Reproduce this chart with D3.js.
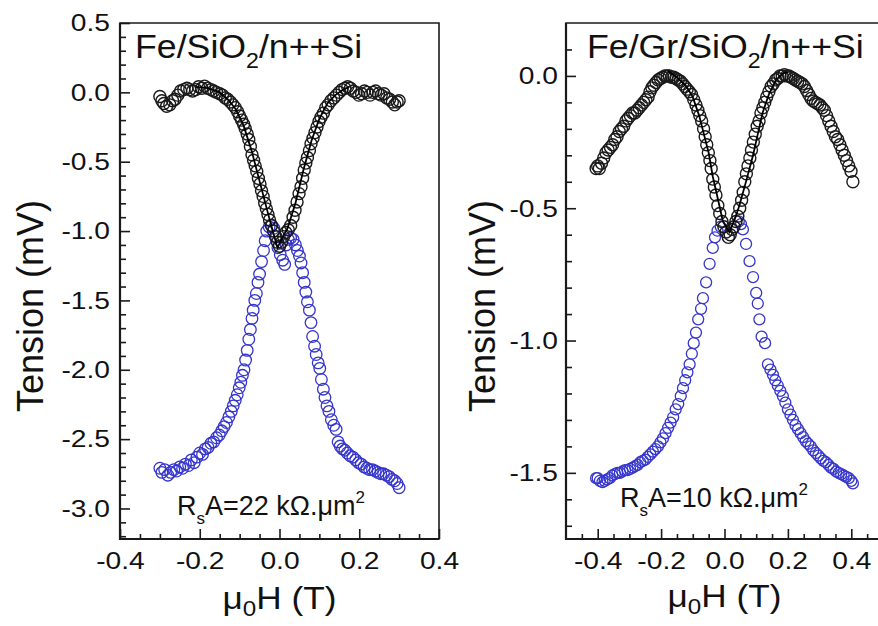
<!DOCTYPE html>
<html>
<head>
<meta charset="utf-8">
<script src="https://cdn.jsdelivr.net/npm/d3@7"></script>
<style>
  html, body { margin: 0; padding: 0; background: #fff; }
  svg { display: block; font-family: "Liberation Sans", Arial, sans-serif; }
</style>
</head>
<body>
<svg id="chart" width="878" height="626"></svg>
<script>
// ---------------- DATA ----------------
// Left panel: Fe/SiO2/n++Si  (field in T, tension in mV)
const leftBlack = [
  [-0.300,-0.03],[-0.295,-0.06],[-0.290,-0.08],[-0.283,-0.10],[-0.275,-0.09],[-0.268,-0.06],[-0.262,-0.05],
  [-0.255,-0.02],[-0.248,0.01],[-0.240,0.02],[-0.232,0.03],[-0.225,0.02],[-0.218,0.01],[-0.210,0.02],
  [-0.203,0.04],[-0.195,0.03],[-0.188,0.045],[-0.180,0.03],[-0.172,0.02],[-0.165,0.01],[-0.158,0.0],
  [-0.150,-0.01],[-0.143,-0.02],[-0.136,-0.04],[-0.130,-0.05],[-0.123,-0.07],[-0.117,-0.09],[-0.111,-0.11],
  [-0.105,-0.14],[-0.100,-0.17],[-0.095,-0.20],[-0.090,-0.23],[-0.086,-0.26],[-0.081,-0.30],[-0.077,-0.34],
  [-0.073,-0.39],[-0.069,-0.45],[-0.065,-0.49],[-0.061,-0.53],[-0.057,-0.57],[-0.053,-0.62],[-0.049,-0.66],
  [-0.045,-0.71],[-0.041,-0.75],[-0.037,-0.80],[-0.033,-0.84],[-0.029,-0.88],[-0.025,-0.92],[-0.020,-0.96],
  [-0.015,-1.00],[-0.010,-1.04],[-0.005,-1.08],[0.000,-1.11],[0.005,-1.08],[0.010,-1.04],[0.016,-1.01],
  [0.022,-0.99],[0.028,-0.96],[0.034,-0.90],[0.039,-0.85],[0.044,-0.79],[0.049,-0.73],[0.054,-0.68],
  [0.058,-0.62],[0.062,-0.56],[0.066,-0.51],[0.070,-0.47],[0.075,-0.42],[0.079,-0.37],[0.084,-0.33],
  [0.089,-0.29],[0.094,-0.25],[0.099,-0.21],[0.104,-0.18],[0.110,-0.15],[0.116,-0.11],[0.122,-0.09],
  [0.129,-0.06],[0.136,-0.04],[0.143,-0.02],[0.150,0.0],[0.157,0.02],[0.164,0.03],[0.171,0.04],
  [0.178,0.03],[0.185,0.01],[0.192,0.0],[0.199,-0.02],[0.206,-0.01],[0.213,0.01],[0.220,0.0],
  [0.227,-0.02],[0.234,0.0],[0.241,0.01],[0.248,-0.01],[0.255,-0.02],[0.262,-0.01],[0.269,-0.04],
  [0.276,-0.05],[0.283,-0.07],[0.289,-0.09],[0.295,-0.07],[0.300,-0.06]
];
const leftFit = [
  [-0.21,0.04],[-0.18,0.03],[-0.15,0.0],[-0.13,-0.05],[-0.11,-0.12],[-0.09,-0.24],[-0.07,-0.42],
  [-0.05,-0.64],[-0.03,-0.86],[-0.015,-1.02],[-0.005,-1.12],[0.005,-1.06],[0.02,-0.98],[0.04,-0.80],
  [0.06,-0.56],[0.08,-0.35],[0.10,-0.19],[0.12,-0.08],[0.14,-0.02],[0.16,0.02],[0.175,0.04]
];
const leftBlue = [
  [-0.300,-2.71],[-0.295,-2.74],[-0.288,-2.72],[-0.280,-2.76],[-0.273,-2.74],[-0.265,-2.72],[-0.258,-2.73],
  [-0.250,-2.70],[-0.243,-2.71],[-0.236,-2.68],[-0.228,-2.69],[-0.221,-2.65],[-0.214,-2.67],[-0.207,-2.63],
  [-0.200,-2.60],[-0.193,-2.61],[-0.186,-2.57],[-0.179,-2.56],[-0.172,-2.53],[-0.165,-2.52],[-0.158,-2.49],
  [-0.151,-2.47],[-0.145,-2.44],[-0.139,-2.41],[-0.133,-2.38],[-0.127,-2.34],[-0.121,-2.30],[-0.116,-2.26],
  [-0.111,-2.22],[-0.106,-2.18],[-0.101,-2.13],[-0.097,-2.09],[-0.093,-2.04],[-0.089,-2.00],[-0.085,-1.93],
  [-0.081,-1.86],[-0.077,-1.78],[-0.073,-1.71],[-0.069,-1.63],[-0.066,-1.57],[-0.062,-1.50],[-0.058,-1.45],
  [-0.054,-1.37],[-0.050,-1.31],[-0.045,-1.22],[-0.040,-1.14],[-0.036,-1.07],[-0.032,-1.00],[-0.026,-0.97],
  [-0.020,-0.96],[-0.014,-0.98],[-0.008,-1.04],[-0.004,-1.12],[0.002,-1.17],[0.008,-1.21],[0.013,-1.24],
  [0.017,-1.10],[0.022,-1.06],[0.028,-1.05],[0.034,-1.06],[0.040,-1.10],[0.045,-1.14],[0.050,-1.18],
  [0.054,-1.23],[0.058,-1.30],[0.062,-1.37],[0.066,-1.44],[0.070,-1.51],[0.075,-1.57],[0.079,-1.66],
  [0.083,-1.76],[0.088,-1.83],[0.092,-1.89],[0.097,-1.95],[0.101,-1.99],[0.105,-2.07],[0.110,-2.14],
  [0.114,-2.20],[0.119,-2.26],[0.124,-2.30],[0.130,-2.36],[0.136,-2.40],[0.142,-2.43],[0.147,-2.52],
  [0.152,-2.55],[0.158,-2.57],[0.164,-2.58],[0.170,-2.60],[0.177,-2.62],[0.184,-2.63],[0.191,-2.65],
  [0.198,-2.67],[0.205,-2.68],[0.212,-2.70],[0.219,-2.71],[0.226,-2.72],[0.233,-2.72],[0.240,-2.73],
  [0.247,-2.74],[0.254,-2.75],[0.261,-2.75],[0.268,-2.76],[0.275,-2.77],[0.282,-2.79],[0.289,-2.80],
  [0.295,-2.82],[0.300,-2.85]
];

// Right panel: Fe/Gr/SiO2/n++Si
const rightBlack = [
  [-0.405,-0.35],[-0.400,-0.34],[-0.395,-0.35],[-0.388,-0.33],[-0.381,-0.31],[-0.374,-0.29],[-0.367,-0.28],
  [-0.360,-0.27],[-0.353,-0.26],[-0.346,-0.24],[-0.339,-0.23],[-0.332,-0.21],[-0.325,-0.20],[-0.318,-0.19],
  [-0.311,-0.17],[-0.304,-0.16],[-0.297,-0.15],[-0.290,-0.14],[-0.283,-0.14],[-0.276,-0.13],[-0.269,-0.12],
  [-0.262,-0.11],[-0.255,-0.10],[-0.248,-0.09],[-0.241,-0.08],[-0.235,-0.06],[-0.229,-0.045],[-0.223,-0.035],
  [-0.216,-0.025],[-0.209,-0.015],[-0.202,-0.01],[-0.195,-0.005],[-0.188,0.0],[-0.181,0.0],[-0.174,0.0],
  [-0.167,-0.005],[-0.160,-0.005],[-0.153,-0.01],[-0.146,-0.015],[-0.139,-0.02],[-0.132,-0.03],[-0.125,-0.04],
  [-0.118,-0.05],[-0.111,-0.06],[-0.104,-0.07],[-0.097,-0.09],[-0.090,-0.11],[-0.084,-0.13],[-0.078,-0.15],
  [-0.072,-0.17],[-0.066,-0.20],[-0.061,-0.23],[-0.056,-0.26],[-0.051,-0.29],[-0.046,-0.32],[-0.042,-0.35],
  [-0.037,-0.39],[-0.032,-0.42],[-0.027,-0.45],[-0.021,-0.49],[-0.015,-0.52],[-0.008,-0.55],[-0.002,-0.57],
  [0.005,-0.59],[0.012,-0.61],[0.018,-0.60],[0.024,-0.58],[0.030,-0.57],[0.036,-0.55],[0.042,-0.53],
  [0.048,-0.50],[0.054,-0.47],[0.059,-0.44],[0.064,-0.40],[0.069,-0.37],[0.074,-0.34],[0.080,-0.31],
  [0.085,-0.28],[0.091,-0.25],[0.097,-0.22],[0.103,-0.19],[0.109,-0.17],[0.115,-0.14],[0.121,-0.12],
  [0.127,-0.10],[0.133,-0.08],[0.140,-0.06],[0.147,-0.04],[0.154,-0.03],[0.161,-0.015],[0.168,-0.01],
  [0.175,0.0],[0.182,0.0],[0.189,0.005],[0.196,0.0],[0.203,0.0],[0.210,-0.005],[0.217,-0.01],
  [0.224,-0.015],[0.231,-0.02],[0.238,-0.025],[0.245,-0.03],[0.252,-0.04],[0.259,-0.055],[0.266,-0.07],
  [0.273,-0.085],[0.280,-0.095],[0.287,-0.10],[0.294,-0.105],[0.301,-0.11],[0.308,-0.12],[0.315,-0.13],
  [0.322,-0.15],[0.329,-0.17],[0.336,-0.19],[0.343,-0.21],[0.350,-0.23],[0.357,-0.24],[0.364,-0.26],
  [0.371,-0.28],[0.378,-0.30],[0.385,-0.32],[0.392,-0.34],[0.399,-0.36],[0.405,-0.40]
];
const rightFit = [
  [-0.18,0.02],[-0.15,-0.005],[-0.12,-0.04],[-0.10,-0.08],[-0.08,-0.15],[-0.065,-0.22],[-0.05,-0.29],
  [-0.037,-0.38],[-0.02,-0.47],[-0.005,-0.55],[0.015,-0.59],[0.03,-0.55],[0.047,-0.49],[0.07,-0.39],
  [0.09,-0.30],[0.105,-0.22],[0.12,-0.14],[0.14,-0.07],[0.163,-0.015],[0.185,0.01],[0.20,0.015]
];
const rightBlue = [
  [-0.405,-1.52],[-0.400,-1.52],[-0.393,-1.53],[-0.385,-1.535],[-0.378,-1.53],[-0.370,-1.525],[-0.362,-1.52],
  [-0.354,-1.51],[-0.346,-1.505],[-0.338,-1.50],[-0.330,-1.50],[-0.322,-1.495],[-0.314,-1.49],[-0.306,-1.49],
  [-0.298,-1.485],[-0.290,-1.48],[-0.282,-1.475],[-0.274,-1.47],[-0.266,-1.46],[-0.258,-1.455],[-0.250,-1.45],
  [-0.242,-1.44],[-0.234,-1.43],[-0.226,-1.42],[-0.218,-1.41],[-0.210,-1.40],[-0.202,-1.385],[-0.194,-1.37],
  [-0.186,-1.35],[-0.178,-1.33],[-0.170,-1.31],[-0.162,-1.29],[-0.154,-1.26],[-0.146,-1.24],[-0.138,-1.21],
  [-0.131,-1.18],[-0.124,-1.15],[-0.117,-1.12],[-0.110,-1.09],[-0.103,-1.05],[-0.097,-1.01],[-0.090,-0.97],
  [-0.083,-0.92],[-0.074,-0.88],[-0.068,-0.84],[-0.058,-0.78],[-0.047,-0.71],[-0.037,-0.65],[-0.030,-0.61],
  [-0.022,-0.585],[-0.012,-0.57],[0.045,-0.55],[0.052,-0.56],[0.058,-0.58],[0.068,-0.635],[0.079,-0.70],
  [0.090,-0.76],[0.100,-0.82],[0.105,-0.86],[0.110,-0.92],[0.117,-0.985],[0.128,-1.01],[0.137,-1.09],
  [0.145,-1.11],[0.153,-1.13],[0.160,-1.15],[0.168,-1.17],[0.176,-1.19],[0.184,-1.21],[0.192,-1.235],
  [0.200,-1.26],[0.208,-1.28],[0.216,-1.30],[0.224,-1.32],[0.232,-1.335],[0.240,-1.35],[0.248,-1.365],
  [0.256,-1.38],[0.264,-1.39],[0.272,-1.40],[0.280,-1.415],[0.288,-1.425],[0.296,-1.435],[0.304,-1.445],
  [0.312,-1.455],[0.320,-1.46],[0.328,-1.47],[0.336,-1.48],[0.344,-1.485],[0.352,-1.495],[0.360,-1.50],
  [0.368,-1.505],[0.376,-1.51],[0.384,-1.515],[0.392,-1.52],[0.400,-1.53],[0.405,-1.54]
];

// Axis ticks
const leftXMajor = [-0.4, -0.2, 0.0, 0.2, 0.4];
const leftXMinor = [-0.35,-0.3,-0.25,-0.15,-0.1,-0.05,0.05,0.1,0.15,0.25,0.3,0.35];
const leftYMajor = [-3.0, -2.5, -2.0, -1.5, -1.0, -0.5, 0.0, 0.5];
const leftYMinor = [-3.2,-3.1,-2.9,-2.8,-2.7,-2.6,-2.4,-2.3,-2.2,-2.1,-1.9,-1.8,-1.7,-1.6,-1.4,-1.3,-1.2,-1.1,
                    -0.9,-0.8,-0.7,-0.6,-0.4,-0.3,-0.2,-0.1,0.1,0.2,0.3,0.4];
const rightXMajor = [-0.4, -0.2, 0.0, 0.2, 0.4];
const rightXMinor = [-0.45,-0.35,-0.3,-0.25,-0.15,-0.1,-0.05,0.05,0.1,0.15,0.25,0.3,0.35,0.45];
const rightYMajor = [-1.5, -1.0, -0.5, 0.0];
const rightYMinor = [-1.7,-1.6,-1.4,-1.3,-1.2,-1.1,-0.9,-0.8,-0.7,-0.6,-0.4,-0.3,-0.2,-0.1,0.1];

// Labels
const leftTitle = ["Fe/SiO", "2", "/n++Si"];
const rightTitle = ["Fe/Gr/SiO", "2", "/n++Si"];
const leftNote = ["R", "s", "A=22 k\u03A9.\u03BCm", "2"];
const rightNote = ["R", "s", "A=10 k\u03A9.\u03BCm", "2"];
const yTitle = "Tension (mV)";
const xTitle = ["\u03BC", "0", "H (T)"];

// ---------------- DRAW ----------------
const svg = d3.select("#chart");
svg.append("rect").attr("width", 878).attr("height", 626).attr("fill", "#fff");

const BLACK = "#1a1a1a";
const BLUE = "#3636cc";
const TICK_SX = 1.15;
const fmt = d => d.toFixed(1);

function panel(cfg) {
  const x = d3.scaleLinear().domain(cfg.xDomain).range(cfg.xRange);
  const y = d3.scaleLinear().domain(cfg.yDomain).range([539, 23]);
  const g = svg.append("g");
  const [x0, x1] = cfg.xRange;

  // minor ticks
  g.append("g").attr("transform", `translate(0,539)`)
    .call(d3.axisBottom(x).tickValues(cfg.xMinor).tickSize(-5).tickFormat(""))
    .call(s => s.select(".domain").remove())
    .selectAll("line").attr("stroke", BLACK).attr("stroke-width", 1.6);
  g.append("g").attr("transform", `translate(${x0},0)`)
    .call(d3.axisLeft(y).tickValues(cfg.yMinor).tickSize(-6).tickFormat(""))
    .call(s => s.select(".domain").remove())
    .selectAll("line").attr("stroke", BLACK).attr("stroke-width", 1.6);

  // major ticks + labels
  const gx = g.append("g").attr("transform", `translate(0,539)`)
    .call(d3.axisBottom(x).tickValues(cfg.xMajor).tickSize(-10).tickPadding(13).tickFormat(fmt));
  gx.select(".domain").remove();
  gx.selectAll("line").attr("stroke", BLACK).attr("stroke-width", 1.6);
  gx.selectAll("text").attr("fill", "#111").style("font-size", "24.5px")
    .attr("transform", `scale(${TICK_SX},1)`);

  const gy = g.append("g").attr("transform", `translate(${x0},0)`)
    .call(d3.axisLeft(y).tickValues(cfg.yMajor).tickSize(-10).tickPadding(10).tickFormat(fmt));
  gy.select(".domain").remove();
  gy.selectAll("line").attr("stroke", BLACK).attr("stroke-width", 1.6);
  gy.selectAll("text").attr("fill", "#111").style("font-size", "24.5px")
    .attr("x", -cfg.yPad / TICK_SX)
    .attr("transform", `scale(${TICK_SX},1)`);

  // frame
  g.append("path")
    .attr("d", `M${x0},539 L${x0},23 L${x1},23 L${x1},539 Z`)
    .attr("fill", "none").attr("stroke", BLACK).attr("stroke-width", 1.6);
  g.append("path")
    .attr("d", `M${x0},23 L${x0},539 L${x1},539`)
    .attr("fill", "none").attr("stroke", BLACK).attr("stroke-width", 2.2);

  // data: blue
  g.append("g").selectAll("circle").data(cfg.blue).join("circle")
    .attr("cx", d => x(d[0])).attr("cy", d => y(d[1])).attr("r", cfg.rb)
    .attr("fill", "none").attr("stroke", BLUE).attr("stroke-width", 1.3);
  // data: black
  g.append("g").selectAll("circle").data(cfg.black).join("circle")
    .attr("cx", d => x(d[0])).attr("cy", d => y(d[1])).attr("r", cfg.r)
    .attr("fill", "none").attr("stroke", BLACK).attr("stroke-width", 1.4);
  // fit line
  g.append("path").datum(cfg.fit)
    .attr("d", d3.line().x(d => x(d[0])).y(d => y(d[1])))
    .attr("fill", "none").attr("stroke", "#000").attr("stroke-width", 1.8);

  // title
  const t = g.append("text").attr("transform", `translate(${cfg.titleX},58) scale(1.05,1)`)
    .style("font-size", "34px").attr("fill", "#111");
  t.append("tspan").text(cfg.title[0]);
  t.append("tspan").text(cfg.title[1]).style("font-size", "22px").attr("dy", 10);
  t.append("tspan").text(cfg.title[2]).attr("dy", -10);

  // annotation
  const a = g.append("text").attr("transform", `translate(${cfg.noteX},${cfg.noteY})`)
    .style("font-size", "27px").attr("fill", "#111");
  a.append("tspan").text(cfg.note[0]);
  a.append("tspan").text(cfg.note[1]).style("font-size", "17px").attr("dy", 9);
  a.append("tspan").text(cfg.note[2]).attr("dy", -9);
  a.append("tspan").text(cfg.note[3]).style("font-size", "17px").attr("dy", -12);

  // x title
  const xt = g.append("text")
    .attr("transform", `translate(${x(0)},${cfg.xtY}) scale(1.1,1)`)
    .attr("text-anchor", "middle").style("font-size", "32px").attr("fill", "#111");
  xt.append("tspan").text(xTitle[0]);
  xt.append("tspan").text(xTitle[1]).style("font-size", "22px").attr("dy", 7);
  xt.append("tspan").text(xTitle[2]).attr("dy", -7);

  // y title
  g.append("text")
    .attr("transform", `translate(${cfg.ytX},306) rotate(-90)`)
    .attr("text-anchor", "middle").style("font-size", "36px").attr("fill", "#111")
    .text(yTitle);
}

panel({
  xDomain: [-0.4, 0.4], xRange: [120, 439],
  yDomain: [-3.22, 0.5],
  xMajor: leftXMajor, xMinor: leftXMinor, yMajor: leftYMajor, yMinor: leftYMinor,
  yPad: 10,
  black: leftBlack, blue: leftBlue, fit: leftFit, r: 6, rb: 5.8,
  title: leftTitle, titleX: 135,
  note: leftNote, noteX: 177, noteY: 515,
  xtY: 609, ytX: 43
});

panel({
  xDomain: [-0.5, 0.5], xRange: [566, 883],
  yDomain: [-1.75, 0.2],
  xMajor: rightXMajor, xMinor: rightXMinor, yMajor: rightYMajor, yMinor: rightYMinor,
  yPad: 8,
  black: rightBlack, blue: rightBlue, fit: rightFit, r: 6, rb: 5.5,
  title: rightTitle, titleX: 587,
  note: rightNote, noteX: 620, noteY: 507,
  xtY: 607, ytX: 495
});
</script>
</body>
</html>
